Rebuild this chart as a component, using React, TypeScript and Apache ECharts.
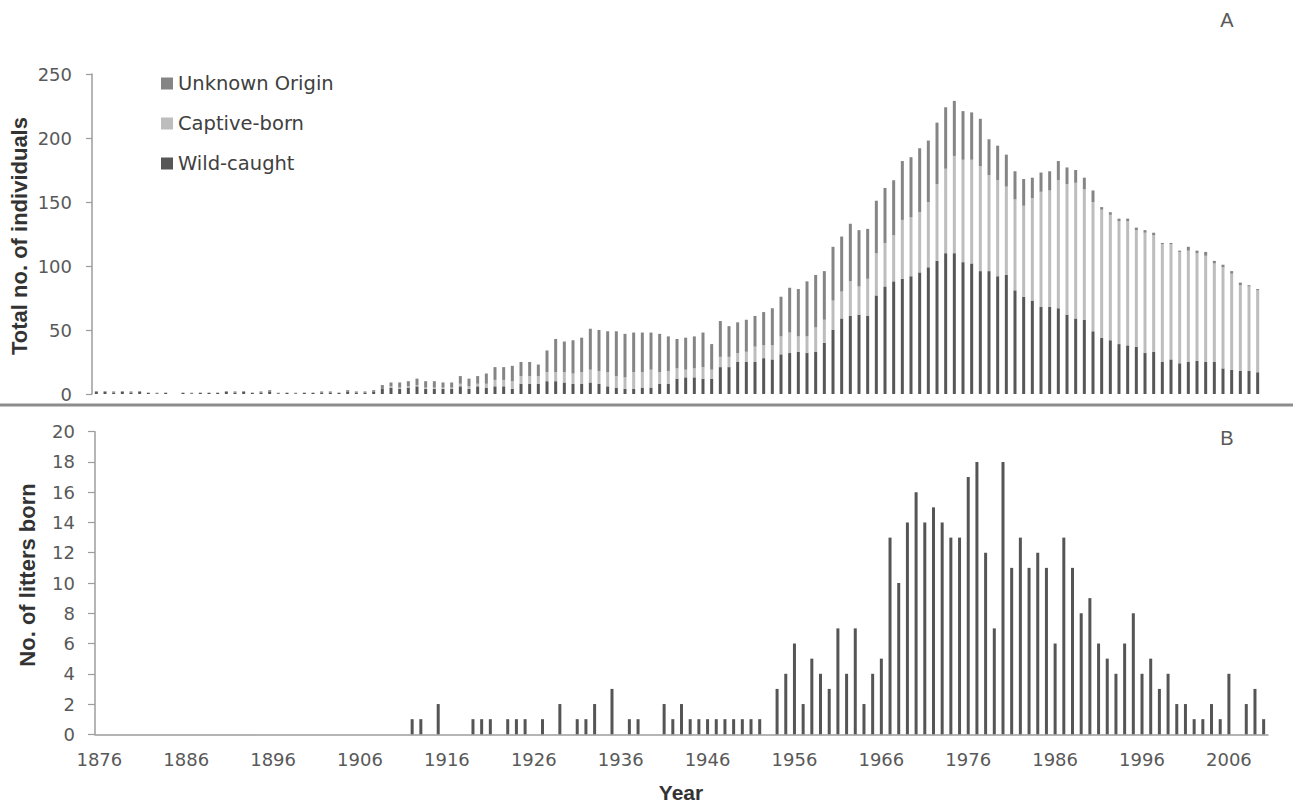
import React, { useEffect, useRef } from "react";
import * as echarts from "echarts";

// Years 1876–2010, one category per year
const START_YEAR = 1876;
const YEAR_COUNT = 135;
const years: string[] = Array.from({ length: YEAR_COUNT }, (_, i) => String(START_YEAR + i));

// Panel A: individuals held each year, by origin (one row per decade)
const wildCaught: number[] = [
  2, 2, 1, 2, 1, 2, 1, 0, 1, 0, // 1876
  1, 0, 1, 1, 1, 2, 1, 2, 1, 1, // 1886
  2, 0, 1, 0, 1, 1, 1, 1, 1, 2, // 1896
  1, 1, 2, 4, 5, 4, 5, 6, 4, 4, // 1906
  4, 4, 6, 4, 6, 5, 6, 6, 4, 8, // 1916
  8, 8, 10, 10, 9, 8, 8, 9, 8, 6, // 1926
  5, 4, 4, 5, 5, 8, 8, 12, 13, 13, // 1936
  12, 12, 21, 21, 25, 25, 25, 28, 27, 31, // 1946
  32, 33, 32, 33, 40, 50, 59, 61, 62, 61, // 1956
  77, 84, 88, 90, 92, 95, 99, 104, 110, 110, // 1966
  103, 102, 96, 96, 92, 93, 81, 76, 73, 68, // 1976
  68, 67, 62, 59, 58, 49, 44, 42, 39, 38, // 1986
  37, 32, 33, 25, 27, 24, 25, 26, 25, 25, // 1996
  20, 19, 18, 18, 17, // 2006
];

const captiveBorn: number[] = [
  0, 0, 0, 0, 0, 0, 0, 0, 0, 0, // 1876
  0, 0, 0, 0, 0, 0, 0, 0, 0, 0, // 1886
  0, 0, 0, 0, 0, 0, 0, 0, 0, 0, // 1896
  0, 0, 0, 0, 1, 1, 1, 1, 1, 1, // 1906
  1, 1, 2, 2, 2, 3, 5, 5, 6, 6, // 1916
  6, 6, 7, 7, 8, 8, 9, 10, 10, 11, // 1926
  9, 9, 13, 12, 14, 9, 10, 8, 6, 7, // 1936
  9, 7, 8, 8, 7, 8, 12, 10, 11, 14, // 1946
  16, 12, 13, 19, 18, 23, 21, 27, 22, 29, // 1956
  33, 34, 36, 46, 46, 47, 51, 60, 66, 76, // 1966
  80, 81, 82, 75, 75, 69, 71, 71, 80, 90, // 1976
  91, 100, 102, 106, 102, 101, 100, 98, 96, 97, // 1986
  91, 94, 91, 92, 90, 87, 87, 84, 83, 77, // 1996
  79, 75, 67, 66, 64, // 2006
];

const unknownOrigin: number[] = [
  0, 0, 1, 0, 1, 0, 0, 1, 0, 0, // 1876
  0, 1, 0, 0, 0, 0, 1, 0, 0, 1, // 1886
  1, 1, 0, 1, 0, 0, 1, 1, 0, 1, // 1896
  1, 1, 1, 3, 3, 4, 4, 5, 5, 5, // 1906
  4, 4, 6, 6, 6, 8, 10, 10, 12, 11, // 1916
  11, 9, 17, 26, 24, 26, 27, 32, 32, 32, // 1926
  35, 34, 31, 31, 29, 30, 27, 23, 25, 25, // 1936
  27, 20, 28, 24, 24, 25, 24, 26, 29, 31, // 1946
  35, 37, 43, 41, 38, 42, 43, 45, 44, 39, // 1956
  41, 43, 43, 46, 47, 50, 48, 48, 48, 43, // 1966
  38, 37, 37, 28, 27, 25, 22, 21, 16, 15, // 1976
  15, 15, 13, 10, 9, 9, 2, 2, 2, 2, // 1986
  2, 2, 2, 1, 1, 1, 3, 2, 3, 2, // 1996
  2, 2, 2, 1, 1, // 2006
];

// Panel B: litters born each year
const littersBorn: number[] = [
  0, 0, 0, 0, 0, 0, 0, 0, 0, 0, // 1876
  0, 0, 0, 0, 0, 0, 0, 0, 0, 0, // 1886
  0, 0, 0, 0, 0, 0, 0, 0, 0, 0, // 1896
  0, 0, 0, 0, 0, 0, 1, 1, 0, 2, // 1906
  0, 0, 0, 1, 1, 1, 0, 1, 1, 1, // 1916
  0, 1, 0, 2, 0, 1, 1, 2, 0, 3, // 1926
  0, 1, 1, 0, 0, 2, 1, 2, 1, 1, // 1936
  1, 1, 1, 1, 1, 1, 1, 0, 3, 4, // 1946
  6, 2, 5, 4, 3, 7, 4, 7, 2, 4, // 1956
  5, 13, 10, 14, 16, 14, 15, 14, 13, 13, // 1966
  17, 18, 12, 7, 18, 11, 13, 11, 12, 11, // 1976
  6, 13, 11, 8, 9, 6, 5, 4, 6, 8, // 1986
  4, 5, 3, 4, 2, 2, 1, 1, 2, 1, // 1996
  4, 0, 2, 3, 1, // 2006
];

const SERIES_NAMES = ["Unknown Origin", "Captive-born", "Wild-caught"];

const TICK_FONT = "DejaVu Sans";
const TITLE_FONT = "Liberation Sans";
const AXIS_GRAY = "#9c9c9c";
const LABEL_GRAY = "#595959";

export default function App() {
  const ref = useRef<HTMLDivElement>(null);

  useEffect(() => {
    if (!ref.current) return;
    const chart = echarts.init(ref.current, undefined, { renderer: "svg" });

    const yLabel = { color: LABEL_GRAY, fontFamily: TICK_FONT, fontSize: 18, margin: 20 };

    chart.setOption({
      animation: false,
      backgroundColor: "#ffffff",
      legend: {
        orient: "vertical",
        left: 161,
        top: 73.5,
        padding: 0,
        icon: "rect",
        itemWidth: 12,
        itemHeight: 12,
        itemGap: 20,
        data: SERIES_NAMES,
        textStyle: { fontFamily: TICK_FONT, fontSize: 19.5, color: "#404040", lineHeight: 20 },
      },
      grid: [
        { left: 92, width: 1170, top: 74, height: 320 },
        { left: 95, width: 1173, top: 431.7, height: 302.6 },
      ],
      xAxis: [
        {
          type: "category",
          gridIndex: 0,
          data: years,
          axisLine: { show: false },
          axisTick: { show: false },
          axisLabel: { show: false },
        },
        {
          type: "category",
          gridIndex: 1,
          data: years,
          axisLine: { lineStyle: { color: AXIS_GRAY, width: 1.5 } },
          axisTick: { interval: 4, length: 6, lineStyle: { color: AXIS_GRAY, width: 1.2 } },
          axisLabel: { interval: 9, color: LABEL_GRAY, fontFamily: TICK_FONT, fontSize: 18, margin: 16 },
        },
      ],
      yAxis: [
        {
          type: "value",
          gridIndex: 0,
          min: 0,
          max: 250,
          interval: 50,
          splitLine: { show: false },
          axisLine: { show: true, lineStyle: { color: AXIS_GRAY, width: 1.5 } },
          axisTick: { show: true, length: 6, lineStyle: { color: AXIS_GRAY, width: 1.2 } },
          axisLabel: yLabel,
        },
        {
          type: "value",
          gridIndex: 1,
          min: 0,
          max: 20,
          interval: 2,
          splitLine: { show: false },
          axisLine: { show: true, lineStyle: { color: AXIS_GRAY, width: 1.5 } },
          axisTick: { show: true, length: 7, lineStyle: { color: AXIS_GRAY, width: 1.2 } },
          axisLabel: yLabel,
        },
      ],
      series: [
        {
          name: "Wild-caught",
          type: "bar",
          stack: "origin",
          xAxisIndex: 0,
          yAxisIndex: 0,
          barWidth: 3,
          itemStyle: { color: "#575757" },
          data: wildCaught,
        },
        {
          name: "Captive-born",
          type: "bar",
          stack: "origin",
          xAxisIndex: 0,
          yAxisIndex: 0,
          barWidth: 3,
          itemStyle: { color: "#bdbdbd" },
          data: captiveBorn,
        },
        {
          name: "Unknown Origin",
          type: "bar",
          stack: "origin",
          xAxisIndex: 0,
          yAxisIndex: 0,
          barWidth: 3,
          itemStyle: { color: "#858585" },
          data: unknownOrigin,
        },
        {
          name: "Litters",
          type: "bar",
          xAxisIndex: 1,
          yAxisIndex: 1,
          barWidth: 3,
          itemStyle: { color: "#555555" },
          data: littersBorn,
        },
      ],
      graphic: [
        {
          type: "line",
          shape: { x1: 0, y1: 405, x2: 1293, y2: 405 },
          style: { stroke: "#8c8c8c", lineWidth: 3 },
        },
        {
          type: "text",
          x: 1227,
          y: 20,
          style: { text: "A", align: "center", verticalAlign: "middle", font: `20px ${TITLE_FONT}`, fill: LABEL_GRAY },
        },
        {
          type: "text",
          x: 1227,
          y: 438,
          style: { text: "B", align: "center", verticalAlign: "middle", font: `20px ${TITLE_FONT}`, fill: LABEL_GRAY },
        },
        {
          type: "text",
          x: 19,
          y: 236,
          rotation: Math.PI / 2,
          style: {
            text: "Total no. of individuals",
            align: "center",
            verticalAlign: "middle",
            font: `bold 22px ${TITLE_FONT}`,
            fill: "#333333",
          },
        },
        {
          type: "text",
          x: 27,
          y: 575,
          rotation: Math.PI / 2,
          style: {
            text: "No. of litters born",
            align: "center",
            verticalAlign: "middle",
            font: `bold 22px ${TITLE_FONT}`,
            fill: "#333333",
          },
        },
        {
          type: "text",
          x: 681,
          y: 792,
          style: { text: "Year", align: "center", verticalAlign: "middle", font: `bold 21px ${TITLE_FONT}`, fill: "#333333" },
        },
      ],
    });

    return () => chart.dispose();
  }, []);

  return <div ref={ref} style={{ position: "fixed", left: 0, top: 0, width: 1295, height: 804 }} />;
}
